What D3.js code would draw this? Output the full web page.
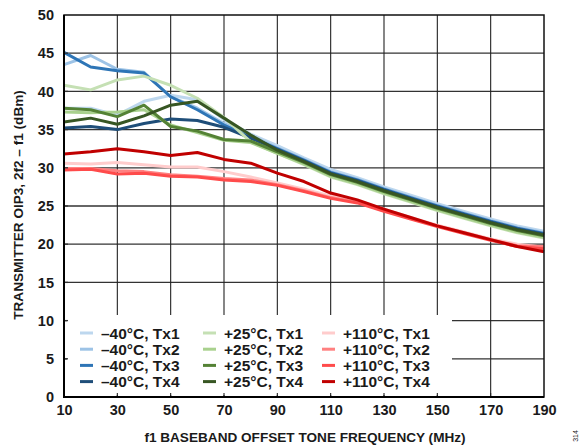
<!DOCTYPE html>
<html><head><meta charset="utf-8">
<script src="https://cdn.jsdelivr.net/npm/d3@7"></script>
<style>
html,body{margin:0;padding:0;background:#fff;}
svg text{font-family:"Liberation Sans",Arial,sans-serif;font-weight:bold;fill:#1a1a1a;}
</style></head>
<body><svg id="c" width="582" height="446"></svg>
<script>
const freqs = [10,20,30,40,50,60,70,80,90,100,110,120,130,140,150,160,170,180,190];
const xTicks = [10,30,50,70,90,110,130,150,170,190];
const yTicks = [0,5,10,15,20,25,30,35,40,45,50];

const m40Tx1 = [37.8,37.8,36.9,38.7,39.5,38.9,36.3,34.4,32.9,31.3,29.8,28.7,27.5,26.4,25.3,24.3,23.3,22.4,21.7];
const m40Tx2 = [43.5,44.7,42.9,42.5,39.3,37.8,35.8,34.2,32.6,31.1,29.5,28.5,27.3,26.2,25.1,24.1,23.1,22.2,21.5];
const m40Tx3 = [45.1,43.2,42.7,42.4,39.3,37.6,35.6,34.0,32.5,31.0,29.4,28.4,27.2,26.1,25.0,24.0,23.0,22.1,21.4];
const m40Tx4 = [35.2,35.4,35.0,35.8,36.4,36.2,35.3,33.9,32.4,30.9,29.3,28.3,27.1,26.0,24.9,23.9,22.9,22.0,21.3];
const p25Tx1 = [40.8,40.2,41.5,42.0,40.8,39.1,36.6,33.4,31.9,30.4,28.8,27.8,26.6,25.5,24.4,23.4,22.4,21.5,20.8];
const p25Tx2 = [37.3,37.2,37.3,37.6,35.6,34.6,33.6,33.3,31.9,30.5,28.9,27.9,26.7,25.6,24.5,23.5,22.5,21.6,20.9];
const p25Tx3 = [37.8,37.6,36.7,38.2,35.4,34.8,33.7,33.5,32.1,30.7,29.1,28.1,26.9,25.8,24.7,23.7,22.7,21.8,21.1];
const p25Tx4 = [36.0,36.5,35.7,36.8,38.2,38.7,36.5,34.3,32.3,30.8,29.2,28.2,27.0,25.9,24.8,23.8,22.8,21.9,21.2];
const p110Tx1 = [30.6,30.5,30.7,30.4,30.1,30.1,29.5,28.8,28.0,27.2,26.3,25.6,24.6,23.5,22.5,21.6,20.7,20.0,19.6];
const p110Tx2 = [29.9,29.9,29.6,29.5,29.1,28.9,28.6,28.4,27.8,27.0,26.1,25.5,24.4,23.4,22.4,21.5,20.6,19.8,19.7];
const p110Tx3 = [29.7,29.8,29.2,29.3,28.9,28.8,28.4,28.2,27.7,26.9,26.0,25.4,24.3,23.3,22.3,21.4,20.5,19.7,19.4];
const p110Tx4 = [31.8,32.1,32.5,32.1,31.6,32.0,31.1,30.6,29.3,28.2,26.7,25.8,24.6,23.5,22.4,21.5,20.6,19.7,19.0];

const seriesNames = ["\u201340°C, Tx1","\u201340°C, Tx2","\u201340°C, Tx3","\u201340°C, Tx4",
  "+25°C, Tx1","+25°C, Tx2","+25°C, Tx3","+25°C, Tx4",
  "+110°C, Tx1","+110°C, Tx2","+110°C, Tx3","+110°C, Tx4"];
const seriesValues = [m40Tx1,m40Tx2,m40Tx3,m40Tx4,p25Tx1,p25Tx2,p25Tx3,p25Tx4,p110Tx1,p110Tx2,p110Tx3,p110Tx4];
const colors = ["#bdd7ee","#9dc3e6","#2e75b6","#1f4e79","#c5e0b4","#a9d18e","#548235","#375623","#ffcccc","#ff8080","#ff4b4b","#c00000"];

const svg = d3.select("#c");
const L=64, R=544, T=15, B=397;
const x = d3.scaleLinear().domain([10,190]).range([L,R]);
const y = d3.scaleLinear().domain([0,50]).range([B,T]);

// gridlines
const g = svg.append("g");
g.selectAll("line.h").data(yTicks.filter(d=>d>0&&d<50)).enter().append("line")
  .attr("x1",L).attr("x2",R).attr("y1",d=>y(d)).attr("y2",d=>y(d))
  .attr("stroke","#333").attr("stroke-width",1.3);
g.selectAll("line.v").data(xTicks.filter(d=>d>10&&d<190)).enter().append("line")
  .attr("y1",T).attr("y2",B).attr("x1",d=>x(d)).attr("x2",d=>x(d))
  .attr("stroke","#222").attr("stroke-width",1.1);

// lines
const line = d3.line().x((d,i)=>x(freqs[i])).y(d=>y(d));
seriesValues.forEach((vals,i)=>{
  svg.append("path").attr("d",line(vals)).attr("fill","none")
    .attr("stroke",colors[i]).attr("stroke-width",3).attr("stroke-linejoin","round");
});

// legend
const lg = svg.append("g");
lg.append("rect").attr("x",67).attr("y",315).attr("width",385).attr("height",80).attr("fill","#fff");
const colX = [80,203,322];
seriesNames.forEach((n,i)=>{
  const c = Math.floor(i/4), r = i%4;
  const yy = 333 + r*16.2;
  lg.append("line").attr("x1",colX[c]).attr("x2",colX[c]+13).attr("y1",yy).attr("y2",yy)
    .attr("stroke",colors[i]).attr("stroke-width",3);
  lg.append("text").attr("x",colX[c]+21).attr("y",yy+5.5).attr("font-size",15.5).text(n);
});

// inner ticks
svg.append("g").selectAll("line").data(yTicks.filter(d=>d>0&&d<50)).enter().append("line")
  .attr("x1",L).attr("x2",L+4).attr("y1",d=>y(d)).attr("y2",d=>y(d)).attr("stroke","#333").attr("stroke-width",1.3);
svg.append("g").selectAll("line").data(xTicks.filter(d=>d>10&&d<190)).enter().append("line")
  .attr("x1",d=>x(d)).attr("x2",d=>x(d)).attr("y1",B).attr("y2",B-4).attr("stroke","#222").attr("stroke-width",1.1);

// frame
svg.append("rect").attr("x",L).attr("y",T).attr("width",R-L).attr("height",B-T)
  .attr("fill","none").attr("stroke","#111").attr("stroke-width",1.5);
svg.append("line").attr("x1",L).attr("x2",L).attr("y1",T).attr("y2",B+1).attr("stroke","#000").attr("stroke-width",2);
svg.append("line").attr("x1",L-1).attr("x2",R).attr("y1",B).attr("y2",B).attr("stroke","#000").attr("stroke-width",2);

// axes (labels via d3 axis)
const yAxis = d3.axisLeft(y).tickValues(yTicks).tickSize(0).tickPadding(10);
const ya = svg.append("g").attr("transform",`translate(${L},0)`).call(yAxis);
ya.select(".domain").remove();
ya.selectAll("text").attr("font-size",14.5).style("font-family","Liberation Sans, Arial, sans-serif").style("font-weight","bold").attr("fill","#1a1a1a");
const xAxis = d3.axisBottom(x).tickValues(xTicks).tickSize(0).tickPadding(8);
const xa = svg.append("g").attr("transform",`translate(0,${B})`).call(xAxis);
xa.select(".domain").remove();
xa.selectAll("text").attr("font-size",14.5).style("font-family","Liberation Sans, Arial, sans-serif").style("font-weight","bold").attr("fill","#1a1a1a");

// titles
svg.append("text").attr("x",305).attr("y",442).attr("text-anchor","middle").attr("font-size",13.6)
  .text("f1 BASEBAND OFFSET TONE FREQUENCY (MHz)");
svg.append("text").attr("transform","translate(23,205) rotate(-90)").attr("text-anchor","middle").attr("font-size",13.6)
  .text("TRANSMITTER OIP3, 2f2 \u2013 f1 (dBm)");
svg.append("text").attr("transform","translate(578,436) rotate(-90)").attr("text-anchor","middle")
  .attr("font-size",7).style("font-weight","normal").attr("fill","#555").text("314");
</script></body></html>
